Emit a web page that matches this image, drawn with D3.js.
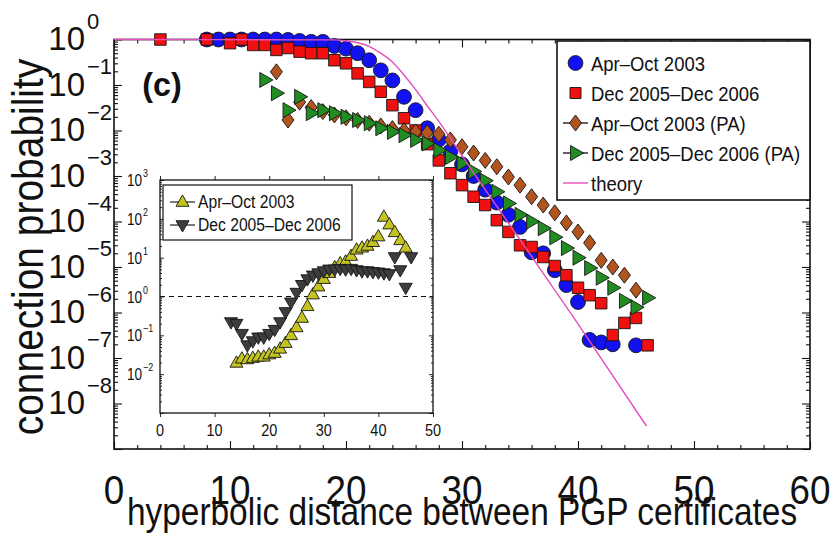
<!DOCTYPE html>
<html>
<head>
<meta charset="utf-8">
<script src="https://cdn.jsdelivr.net/npm/d3@7"></script>
<style>
  html, body { margin: 0; padding: 0; background: #fff; }
  svg { display: block; }
  text { font-family: "Liberation Sans", Arial, Helvetica, sans-serif; fill: #111; }
</style>
</head>
<body>
<script>
// ---------- main panel data: connection probability vs hyperbolic distance ----------
const aprDist = [8,9,10,11,12,13,14,15,16,17,18,19,20,21,22,23,24,25,26,27,28,29,30,31,32,33,34,35,36,37,38,39,40,41,42,43,45];
const aprProb = [1,1,1,1,1,1,1,0.98,0.93,0.89,0.89,0.72,0.63,0.50,0.35,0.21,0.126,0.055,0.028,0.0112,0.0063,0.0035,0.0018,0.001,5.0e-4,2.6e-4,1.4e-4,7.6e-5,2.1e-5,2.0e-5,8.5e-6,4.0e-6,1.7e-6,2.5e-7,2.2e-7,2.0e-7,1.9e-7];

const decDist = [4,8,10,11,12,13,14,15,16,17,18,19,20,21,22,23,24,25,26,27,28,29,30,31,32,33,34,35,36,37,38,39,40,41,42,43,44,45,46];
const decProb = [1,1,0.83,1,0.76,0.76,0.59,0.65,0.54,0.50,0.50,0.35,0.30,0.18,0.117,0.071,0.036,0.0186,0.010,0.005,0.0022,0.00115,6.3e-4,3.5e-4,2.3e-4,1.07e-4,5.9e-5,3.0e-5,2.75e-5,1.66e-5,1.05e-5,6.6e-6,3.5e-6,2.4e-6,1.6e-6,3.2e-7,5.9e-7,7.6e-7,1.9e-7];

const aprPADist = [14,15,16,17,18,19,20,21,22,23,24,25,26,27,28,29,30,31,32,33,34,35,36,37,38,39,40,41,42,43,44,45];
const aprPAProb = [0.195,0.017,0.042,0.032,0.026,0.022,0.019,0.0166,0.0145,0.0126,0.011,0.01,0.0093,0.0089,0.0083,0.0062,0.0044,0.0032,0.0022,0.0016,9.5e-4,6.3e-4,3.5e-4,2.3e-4,1.55e-4,9.3e-5,5.9e-5,3.4e-5,1.4e-5,1.0e-5,6.6e-6,3.1e-6];

const decPADist = [13,14,15,16,17,18,19,20,21,22,23,24,25,26,27,28,29,30,31,32,33,34,35,36,37,38,39,40,41,42,43,44,45,46];
const decPAProb = [0.129,0.066,0.028,0.055,0.024,0.028,0.024,0.020,0.017,0.0145,0.0112,0.0093,0.0079,0.0062,0.0052,0.0037,0.0026,0.0019,0.00126,7.9e-4,4.5e-4,2.5e-4,1.4e-4,1.0e-4,7.1e-5,4.5e-5,2.6e-5,1.6e-5,9.5e-6,5.8e-6,3.5e-6,1.8e-6,1.3e-6,2.1e-6];

const theoryDist = [0,19,20,21,22,23,24,25,26,27,28,30,32,35,40,45.9];
const theoryProb = [1,0.98,0.93,0.85,0.71,0.5,0.32,0.166,0.079,0.035,0.0158,0.0028,5e-4,4e-5,5.6e-7,3.2e-9];

// ---------- inset data: ratio of empirical to PA connection probability ----------
const insetAprDist = [14,15,16,17,18,19,20,21,22,23,24,25,26,27,28,29,30,31,32,33,34,35,36,37,38,39,40,41,42,43,44,45];
const insetAprRatio = [0.0195,0.025,0.024,0.026,0.028,0.028,0.032,0.035,0.045,0.063,0.1,0.16,0.28,0.56,1.12,1.8,2.8,4.0,5.6,7.1,7.9,11,16,18,20,25,35,112,71,45,28,18];
const insetDecDist = [13,14,15,16,17,18,19,20,21,22,23,24,25,26,27,28,29,30,31,32,33,34,35,36,37,38,39,40,41,42,43,44,45,46];
const insetDecRatio = [0.22,0.2,0.11,0.056,0.071,0.089,0.089,0.11,0.14,0.22,0.4,0.71,1.26,2.0,2.8,3.5,4.0,4.5,5.0,5.0,5.2,5.0,5.2,4.8,4.5,4.5,4.3,4.2,4.0,3.8,10.4,4.8,1.7,10.4];

// ---------- axis ticks ----------
const xTicks = [0,10,20,30,40,50,60];
const yTickExps = [0,-1,-2,-3,-4,-5,-6,-7,-8];
const insetXTicks = [0,10,20,30,40,50];
const insetYTickExps = [3,2,1,0,-1,-2];

const legendLabels = ["Apr\u2013Oct 2003","Dec 2005\u2013Dec 2006","Apr\u2013Oct 2003 (PA)","Dec 2005\u2013Dec 2006 (PA)","theory"];
const insetLegendLabels = ["Apr\u2013Oct 2003","Dec 2005\u2013Dec 2006"];

// ---------- styles ----------
const C = {
  blue: "#1212f0", red: "#f01010", brown: "#b2541e", green: "#218c21",
  theory: "#e44fbd", olive: "#c3c322", dark: "#3d3d3d", edge: "#151515"
};

const W = 831, H = 537;
const svg = d3.select("body").append("svg").attr("width", W).attr("height", H);
svg.append("rect").attr("width", W).attr("height", H).attr("fill", "#fff");

// marker shapes
const shape = {
  circle: r => `M${r},0A${r},${r} 0 1,1 ${-r},0A${r},${r} 0 1,1 ${r},0Z`,
  square: s => `M${-s/2},${-s/2}H${s/2}V${s/2}H${-s/2}Z`,
  diamond: (w, h) => `M0,${-h/2}L${w/2},0L0,${h/2}L${-w/2},0Z`,
  triRight: s => { const h = s*0.87; return `M${h*0.62},0L${-h*0.38},${-s/2}L${-h*0.38},${s/2}Z`; },
  triUp: s => { const h = s*0.87; return `M0,${-h*0.62}L${s/2},${h*0.38}L${-s/2},${h*0.38}Z`; },
  triDown: s => { const h = s*0.87; return `M0,${h*0.62}L${s/2},${-h*0.38}L${-s/2},${-h*0.38}Z`; }
};

function label(g, x, y, str, size, opt = {}) {
  const sx = opt.sx || 1, sy = opt.sy || 1, rot = opt.rot || 0;
  return g.append("text")
    .attr("transform", `translate(${x},${y}) rotate(${rot}) scale(${sx},${sy})`)
    .attr("font-size", size)
    .attr("font-weight", opt.weight || "normal")
    .attr("text-anchor", opt.anchor || "start")
    .text(str);
}

// ================= main axes =================
const x = d3.scaleLinear().domain([0, 60]).range([114, 810]);
const y = d3.scaleLog().domain([1e-9, 1]).range([449, 39.5]);
const [x0, x1] = x.range();
const [y0, y1] = [y(1), y(1e-9)];

const main = svg.append("g");

// ticks pointing inward on all four sides
const xMinor = d3.range(0, 61, 2).filter(v => v % 10 !== 0);
const yMinor = [];
for (let e = -9; e < 0; e++) for (let m = 2; m <= 9; m++) yMinor.push(m * Math.pow(10, e));
const yMajor = d3.range(-9, 1).map(e => Math.pow(10, e));

function tickAxis(axisFn, scale, vals, len, tx, ty) {
  const g = main.append("g").attr("transform", `translate(${tx},${ty})`)
    .call(axisFn(scale).tickValues(vals).tickSize(len).tickSizeOuter(0).tickFormat(""));
  g.select(".domain").remove();
  g.selectAll(".tick line").attr("stroke", "#111").attr("stroke-width", 1.1);
}
tickAxis(d3.axisTop, x, xTicks, 8, 0, y1);
tickAxis(d3.axisTop, x, xMinor, 4, 0, y1);
tickAxis(d3.axisBottom, x, xTicks, 8, 0, y0);
tickAxis(d3.axisBottom, x, xMinor, 4, 0, y0);
tickAxis(d3.axisRight, y, yMajor, 8, x0, 0);
tickAxis(d3.axisRight, y, yMinor, 4, x0, 0);
tickAxis(d3.axisLeft, y, yMajor, 8, x1, 0);
tickAxis(d3.axisLeft, y, yMinor, 4, x1, 0);

main.append("rect").attr("x", x0).attr("y", y0).attr("width", x1 - x0).attr("height", y1 - y0)
  .attr("fill", "none").attr("stroke", "#111").attr("stroke-width", 1.6);

// tick labels
xTicks.forEach(t => label(main, x(t), 504, String(t), 40, { anchor: "middle", sx: 0.92 }));
yTickExps.forEach(e => {
  const ty = y(Math.pow(10, e));
  label(main, 85, ty + 10.5, "10", 33, { anchor: "end" });
  label(main, 87, ty - 11, e === 0 ? "0" : "\u2212" + Math.abs(e), 22);
});

// axis titles
label(main, (x0 + x1) / 2, 525, "hyperbolic distance between PGP certificates", 38, { anchor: "middle", sx: 0.88 });
label(main, 43, 247, "connection probability", 44, { anchor: "middle", rot: -90, sx: 0.885 });
label(main, 162, 96, "(c)", 34, { anchor: "middle", weight: "bold", sx: 0.95 });

// ---------- series ----------
function scatter(g, xs, ys, sx, sy, path, fill) {
  g.append("g").selectAll("path").data(xs.map((d, i) => [d, ys[i]])).join("path")
    .attr("transform", d => `translate(${sx(d[0])},${sy(d[1])})`)
    .attr("d", path).attr("fill", fill)
    .attr("stroke", C.edge).attr("stroke-width", 0.9);
}
scatter(main, aprDist, aprProb, x, y, shape.circle(7.4), C.blue);
scatter(main, decDist, decProb, x, y, shape.square(11.5), C.red);
scatter(main, aprPADist, aprPAProb, x, y, shape.diamond(12, 16), C.brown);
scatter(main, decPADist, decPAProb, x, y, shape.triRight(15), C.green);

main.append("path")
  .datum(theoryDist.map((d, i) => [d, theoryProb[i]]))
  .attr("d", d3.line().x(d => x(d[0])).y(d => y(d[1])).curve(d3.curveMonotoneX))
  .attr("fill", "none").attr("stroke", C.theory).attr("stroke-width", 1.4);

// ---------- main legend ----------
const leg = main.append("g");
leg.append("rect").attr("x", 557).attr("y", 41).attr("width", 253).attr("height", 159)
  .attr("fill", "#fff").attr("stroke", "#111").attr("stroke-width", 1.6);
const legMarks = [
  { p: shape.circle(7.4), f: C.blue, line: false },
  { p: shape.square(11), f: C.red, line: false },
  { p: shape.diamond(12, 16), f: C.brown, line: true },
  { p: shape.triRight(15), f: C.green, line: true },
  { p: null, f: C.theory, line: true }
];
legendLabels.forEach((s, i) => {
  const ly = 63 + i * 30, m = legMarks[i];
  if (m.line) leg.append("line").attr("x1", 563).attr("x2", 588).attr("y1", ly).attr("y2", ly)
    .attr("stroke", m.p ? "#222" : C.theory).attr("stroke-width", 1.4);
  if (m.p) leg.append("path").attr("transform", `translate(575.5,${ly})`).attr("d", m.p)
    .attr("fill", m.f).attr("stroke", C.edge).attr("stroke-width", 0.9);
  label(leg, 591, ly + 7.5, s, 21, { sx: 0.88 });
});

// ================= inset =================
const xi = d3.scaleLinear().domain([0, 50]).range([160, 433]);
const yi = d3.scaleLog().domain([1e-3, 1e3]).range([413, 180]);
const inset = svg.append("g");
inset.append("rect").attr("x", 160).attr("y", 180).attr("width", 273).attr("height", 233)
  .attr("fill", "#fff").attr("stroke", "none");

const ins = (axisFn, scale, vals, len, tx, ty) => {
  const g = inset.append("g").attr("transform", `translate(${tx},${ty})`)
    .call(axisFn(scale).tickValues(vals).tickSize(len).tickSizeOuter(0).tickFormat(""));
  g.select(".domain").remove();
  g.selectAll(".tick line").attr("stroke", "#111").attr("stroke-width", 0.9);
};
const iyMajor = d3.range(-3, 4).map(e => Math.pow(10, e));
const iyMinor = [];
for (let e = -3; e < 3; e++) for (let m = 2; m <= 9; m++) iyMinor.push(m * Math.pow(10, e));
ins(d3.axisTop, xi, insetXTicks, 4, 0, 180);
ins(d3.axisBottom, xi, insetXTicks, 4, 0, 413);
ins(d3.axisRight, yi, iyMajor, 4, 160, 0);
ins(d3.axisRight, yi, iyMinor, 2, 160, 0);
ins(d3.axisLeft, yi, iyMajor, 4, 433, 0);
ins(d3.axisLeft, yi, iyMinor, 2, 433, 0);
inset.append("rect").attr("x", 160).attr("y", 180).attr("width", 273).attr("height", 233)
  .attr("fill", "none").attr("stroke", "#111").attr("stroke-width", 1.3);

inset.append("line").attr("x1", xi(0)).attr("x2", xi(50)).attr("y1", yi(1)).attr("y2", yi(1))
  .attr("stroke", "#111").attr("stroke-width", 1.2).attr("stroke-dasharray", "5,4");

insetXTicks.forEach(t => label(inset, xi(t), 436, String(t), 17, { anchor: "middle", sx: 0.85 }));
insetYTickExps.forEach(e => {
  const ty = yi(Math.pow(10, e));
  label(inset, 142, ty + 6, "10", 16, { anchor: "end", sx: 0.85 });
  label(inset, 143, ty - 3, e < 0 ? "\u2212" + Math.abs(e) : String(e), 10.5, { sx: 0.85 });
});

scatter(inset, insetAprDist, insetAprRatio, xi, yi, shape.triUp(13), C.olive);
scatter(inset, insetDecDist, insetDecRatio, xi, yi, shape.triDown(13), C.dark);

// inset legend
inset.append("rect").attr("x", 163).attr("y", 185).attr("width", 189).attr("height", 55)
  .attr("fill", "#fff").attr("stroke", "#111").attr("stroke-width", 1.2);
const insMarks = [shape.triUp(13), shape.triDown(13)];
const insFill = [C.olive, C.dark];
insetLegendLabels.forEach((s, i) => {
  const ly = 202 + i * 23;
  inset.append("line").attr("x1", 170).attr("x2", 195).attr("y1", ly).attr("y2", ly)
    .attr("stroke", "#222").attr("stroke-width", 1.2);
  inset.append("path").attr("transform", `translate(182.5,${ly})`).attr("d", insMarks[i])
    .attr("fill", insFill[i]).attr("stroke", C.edge).attr("stroke-width", 0.9);
  label(inset, 198, ly + 6, s, 18, { sx: 0.87 });
});
</script>
</body>
</html>
